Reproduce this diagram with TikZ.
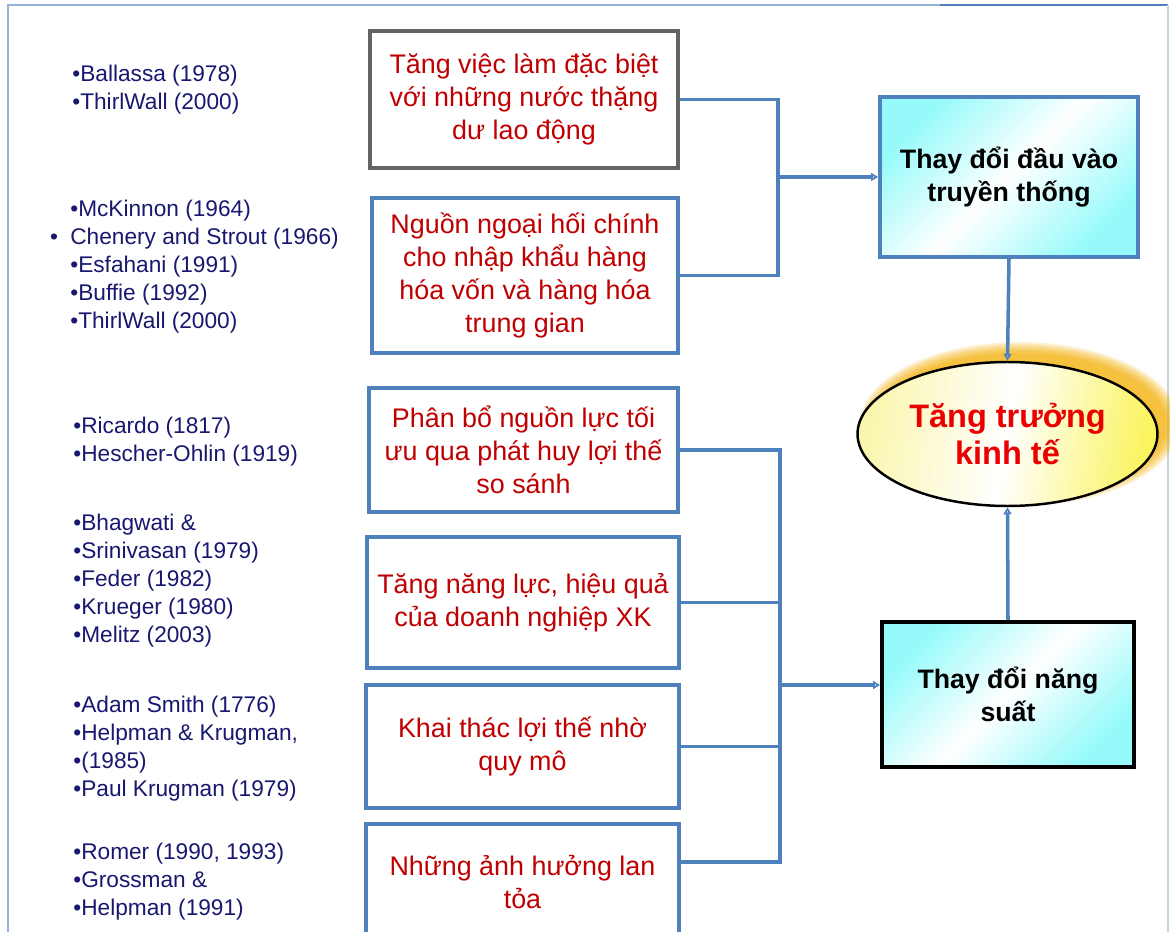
\documentclass[tikz,border=0pt]{standalone}
\usepackage{fontspec}
\setmainfont{Liberation Sans}
\usetikzlibrary{arrows.meta,positioning,shapes.geometric}

\definecolor{lineblue}{RGB}{79,129,189}
\definecolor{framelight}{RGB}{190,215,225}
\definecolor{boxgray}{RGB}{100,100,100}
\definecolor{refnavy}{RGB}{24,24,112}
\definecolor{boxred}{RGB}{192,0,0}
\definecolor{goalred}{RGB}{235,0,0}
\definecolor{glowamber}{RGB}{245,175,0}
\definecolor{paleaqua}{RGB}{150,250,250}
\definecolor{paleyellow}{RGB}{250,246,175}
\definecolor{deepyellow}{RGB}{250,244,95}

\begin{document}
\begin{tikzpicture}[x=0.02cm,y=-0.02cm,
	refs/.style={anchor=west,align=left,inner sep=0pt,text=refnavy,font=\fontsize{12.9}{15.9}\selectfont},
	box/.style={draw=lineblue,line width=2.2pt,fill=white,text=boxred,align=center,inner sep=0pt,font=\fontsize{15.3}{18.9}\selectfont},
	aim/.style={line width=2.2pt,top color=paleaqua,bottom color=paleaqua,middle color=white,shading angle=45,align=center,inner sep=0pt,font=\bfseries\fontsize{15.2}{18.5}\selectfont},
	goal/.style={ellipse,draw=black,line width=1.4pt,left color=paleyellow,right color=deepyellow,middle color=white,shading angle=80,text=goalred,align=center,inner sep=0pt,font=\bfseries\fontsize{18.5}{21}\selectfont},
	link/.style={draw=lineblue,line width=2pt},
	tip/.style={-{Triangle[open,length=4pt,width=4.5pt]}}]
			\useasboundingbox (0,0) rectangle (1170,932);
			\clip (0,0) rectangle (1170,932);
			\fill[white] (0,0) rectangle (1170,932);
			\draw[lineblue!60,line width=1pt] (8,950) |- (940,5);
			\draw[lineblue,line width=1pt] (940,5) -- (1168,5);
			\draw[framelight,line width=1pt] (1168,5) -- (1168,950);

			\node[refs] (refA) at (72,90) {•Ballassa (1978)\\•ThirlWall (2000)};
			\node[refs] (refB) at (70,267) {•McKinnon (1964)\\\llap{•\hspace{7pt}}Chenery and Strout (1966)\\•Esfahani (1991)\\•Buffie (1992)\\•ThirlWall (2000)};
			\node[refs] (refC) at (73,442) {•Ricardo (1817)\\•Hescher-Ohlin (1919)};
			\node[refs] (refD) at (73,581) {•Bhagwati \&\\•Srinivasan (1979)\\•Feder (1982)\\•Krueger (1980)\\•Melitz (2003)};
			\node[refs] (refE) at (73,749) {•Adam Smith (1776)\\•Helpman \& Krugman,\\•(1985)\\•Paul Krugman (1979)};
			\node[refs] (refF) at (73,882) {•Romer (1990, 1993)\\•Grossman \&\\•Helpman (1991)};

			\node[box,draw=boxgray,minimum width=6.16cm,minimum height=2.74cm] (b1) at (524,99.5) {Tăng việc làm đặc biệt\\với những nước thặng\\dư lao động};
			\node[box,minimum width=6.12cm,minimum height=3.1cm] (b2) at (525,275.5) {Nguồn ngoại hối chính\\cho nhập khẩu hàng\\hóa vốn và hàng hóa\\trung gian};
			\node[box,minimum width=6.18cm,minimum height=2.48cm] (b3) at (523.5,450) {Phân bổ nguồn lực tối\\ưu qua phát huy lợi thế\\so sánh};
			\node[box,minimum width=6.24cm,minimum height=2.62cm] (b4) at (523,602.5) {Tăng năng lực, hiệu quả\\của doanh nghiệp XK};
			\node[box,minimum width=6.26cm,minimum height=2.46cm] (b5) at (522.5,746.5) {Khai thác lợi thế nhờ\\quy mô};
			\node[box,minimum width=6.26cm,minimum height=2.32cm] (b6) at (522.5,882) {Những ảnh hưởng lan\\tỏa};

			\foreach \k in {0,...,8} {
				\pgfmathsetmacro\rx{2.92+0.035*\k}
				\pgfmathsetmacro\ry{1.40+0.03*\k}
				\fill[glowamber,opacity=0.14] (1020,424) ellipse [x radius=\rx cm,y radius=\ry cm];
			}
			\node[goal,minimum width=6cm,minimum height=2.88cm] (eg) at (1007.5,434) {Tăng trưởng\\kinh tế};
			\node[aim,draw=lineblue,minimum width=5.16cm,minimum height=3.2cm] (r1) at (1009,177) {Thay đổi đầu vào\\truyền thống};
			\node[aim,draw=black,minimum width=5.04cm,minimum height=2.9cm] (r2) at (1008,694.5) {Thay đổi năng\\suất};

			\coordinate (upj) at (778,177);
			\coordinate (lowj) at (780,685);
			\draw[link] (b1.east) -| (upj);
			\draw[link] (b2.east) -| (upj);
			\draw[link,tip] (upj) -- (upj -| r1.west);
			\draw[link] (b3.east) -| (lowj);
			\draw[link] (b4.east) -| (lowj);
			\draw[link] (b5.east) -| (lowj);
			\draw[link] (b6.north east) ++(0,40) -| (lowj);
			\draw[link,tip] (lowj) -- (lowj -| r2.west);
			\draw[link,tip] (r1.south) -- (eg.north);
			\draw[link,tip] (r2.north) -- (eg.south);
		\end{tikzpicture}
\end{document}
